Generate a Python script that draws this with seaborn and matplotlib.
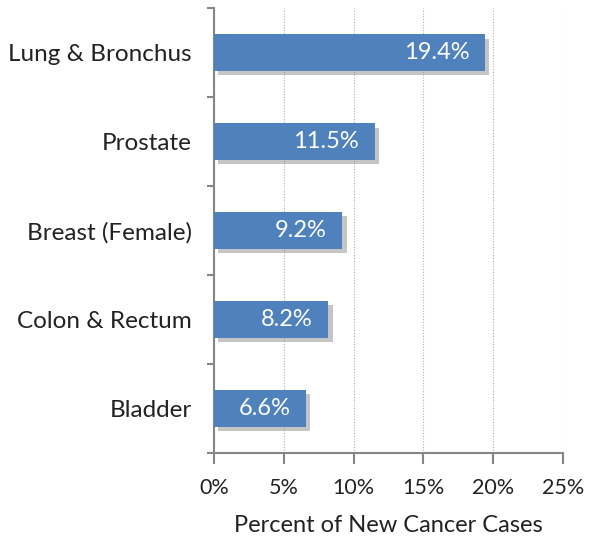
import matplotlib
matplotlib.use("Agg")
import matplotlib.pyplot as plt
import matplotlib.patheffects as pe
import seaborn as sns
import pandas as pd

categories = ["Lung & Bronchus", "Prostate", "Breast (Female)", "Colon & Rectum", "Bladder"]
values = [19.4, 11.5, 9.2, 8.2, 6.6]
xticks = [0, 5, 10, 15, 20, 25]
xlabel = "Percent of New Cancer Cases"

sns.set_theme(style="white")
plt.rcParams['font.family'] = ['Lato', 'DejaVu Sans']

df = pd.DataFrame({"cat": categories, "val": values})

fig = plt.figure(figsize=(5.9, 5.41), dpi=100)
ax = fig.add_axes([0.3627, 0.1627, 0.5915, 0.8223])

sns.barplot(data=df, x="val", y="cat", orient="h", color="#4F81BD",
            saturation=1, width=0.41, ax=ax, zorder=3, linewidth=0)
for p in ax.patches:
    p.set_path_effects([pe.SimplePatchShadow(offset=(3, -3), shadow_rgbFace="#808080", alpha=0.45),
                        pe.Normal()])

fs = 17
for i, v in enumerate(values):
    ax.text(v - 1.1, i, f"{v:.1f}%", ha="right", va="center", color="white",
            fontsize=fs, zorder=4)

ax.set_xlim(0, 25)
ax.set_ylim(len(categories) - 0.5, -0.5)
ax.set_xticks(xticks)
ax.set_xticklabels([f"{t}%" for t in xticks], fontsize=15.5, color="#222222")
ax.set_yticks(range(len(categories)))
ax.set_yticklabels(categories, fontsize=17.5, color="#222222")
ax.tick_params(axis="y", which="major", left=True, length=0, pad=16)
ax.set_yticks([i - 0.5 for i in range(len(categories) + 1)], minor=True)
ax.tick_params(axis="y", which="minor", left=True, length=5, width=1.5, color="#868686", direction="out")
ax.tick_params(axis="x", bottom=True, length=8, width=1.5, color="#868686", direction="out", pad=10)
ax.set_xlabel(xlabel, fontsize=17, color="#222222", labelpad=12)
ax.set_ylabel("")

ax.xaxis.grid(True, linestyle=(0, (1, 1.5)), color="#b0b0b0", linewidth=0.8, zorder=0)
ax.yaxis.grid(False)
ax.set_axisbelow(True)
sns.despine(ax=ax, top=True, right=True)
for s in ["left", "bottom"]:
    ax.spines[s].set_color("#868686")
    ax.spines[s].set_linewidth(1.5)

fig.savefig("out.png", dpi=100)
